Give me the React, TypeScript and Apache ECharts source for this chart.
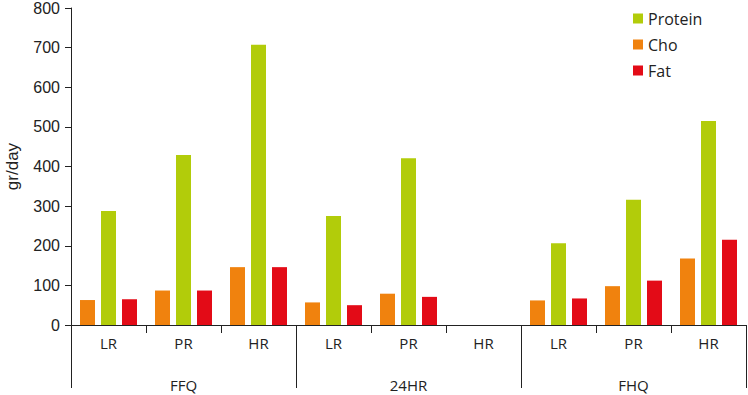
import React, { useEffect, useRef } from "react";
import * as echarts from "echarts";

const subCategories = ["LR", "PR", "HR", "LR", "PR", "HR", "LR", "PR", "HR"];
const groups = ["FFQ", "24HR", "FHQ"];
const choValues: (number | string)[] = [63, 87, 146, 57, 79, "-", 62, 98, 168];
const proteinValues: (number | string)[] = [288, 429, 707, 275, 421, "-", 206, 316, 515];
const fatValues: (number | string)[] = [65, 87, 146, 50, 71, "-", 67, 112, 215];
const legendOrder = ["Protein", "Cho", "Fat"];

export default function App() {
  const ref = useRef<HTMLDivElement>(null);
  useEffect(() => {
    if (!ref.current) return;
    const chart = echarts.init(ref.current, undefined, { renderer: "svg" });
    const axisColor = "#222";
    chart.setOption({
      animation: false,
      backgroundColor: "#fff",
      grid: { left: 71, right: 2, top: 8, bottom: 70, containLabel: false, outerBoundsMode: "none" },
      legend: {
        data: legendOrder,
        orient: "vertical",
        left: 628,
        top: 5,
        itemWidth: 10,
        itemHeight: 10,
        itemGap: 9,
        icon: "rect",
        textStyle: { fontFamily: "Open Sans", fontSize: 16, color: "#222", lineHeight: 17 },
      },
      xAxis: [
        {
          type: "category",
          data: subCategories,
          position: "bottom",
          axisLine: { show: true, lineStyle: { color: axisColor, width: 1 } },
          axisTick: { show: true, length: 8, alignWithLabel: false, lineStyle: { color: axisColor } },
          axisLabel: { margin: 10, fontFamily: "Open Sans", fontSize: 15, color: "#222" },
        },
        {
          type: "category",
          data: groups,
          position: "bottom",
          axisLine: { show: false },
          axisTick: { show: true, length: 63, alignWithLabel: false, lineStyle: { color: axisColor } },
          axisLabel: { margin: 52, fontFamily: "Open Sans", fontSize: 15, color: "#222" },
        },
      ],
      yAxis: {
        type: "value",
        min: 0,
        max: 800,
        interval: 100,
        name: "gr/day",
        nameLocation: "middle",
        nameGap: 50,
        nameTextStyle: { fontFamily: "Liberation Sans", fontSize: 17, color: "#222" },
        axisLine: { show: true, lineStyle: { color: axisColor } },
        axisTick: { show: true, length: 6, lineStyle: { color: axisColor } },
        axisLabel: { margin: 11, fontFamily: "Liberation Sans", fontSize: 16, color: "#222" },
        splitLine: { show: false },
      },
      series: [
        { name: "Cho", type: "bar", xAxisIndex: 0, data: choValues, barWidth: 15, barGap: "40%", itemStyle: { color: "#f0820e" } },
        { name: "Protein", type: "bar", xAxisIndex: 0, data: proteinValues, barWidth: 15, barGap: "40%", itemStyle: { color: "#b2cc0a" } },
        { name: "Fat", type: "bar", xAxisIndex: 0, data: fatValues, barWidth: 15, barGap: "40%", itemStyle: { color: "#e30b17" } },
      ],
    });
    return () => chart.dispose();
  }, []);
  return <div ref={ref} style={{ width: 748, height: 395, position: "absolute", left: 0, top: 0 }} />;
}
